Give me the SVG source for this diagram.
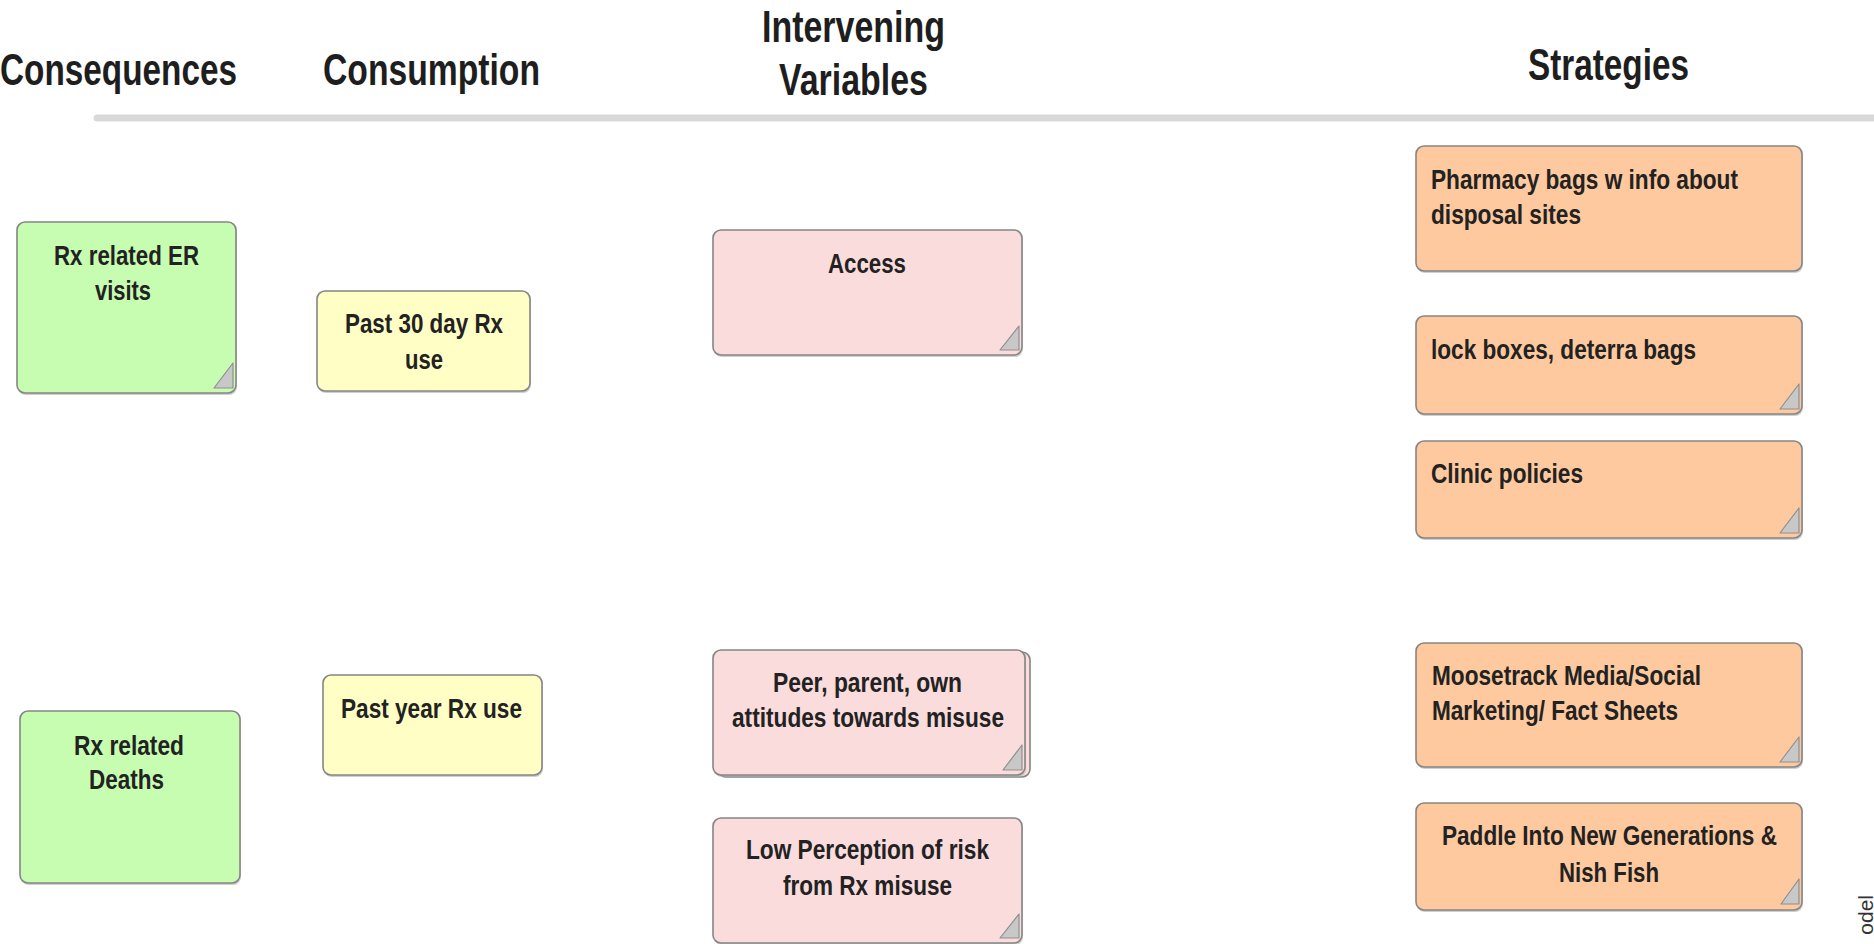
<svg xmlns="http://www.w3.org/2000/svg" width="1874" height="944" viewBox="0 0 1874 944">
<style>
  .hdr { font-family: "Liberation Sans", Arial, sans-serif; font-weight: bold; font-size: 44px; fill: #1e1e1e; }
  .t { font-family: "Liberation Sans", Arial, sans-serif; font-weight: bold; font-size: 28px; fill: #222222; }
  .box { stroke: #858585; stroke-width: 1.6; }
  .shadow { fill: #a8a8a8; opacity: 0.55; }
  .green { fill: #c6fdb1; }
  .yellow { fill: #fffec5; }
  .pink { fill: #fadcdd; }
  .orange { fill: #fec99e; }
  .fold { fill: #c8c8c8; stroke: #8f8f8f; stroke-width: 1.2; stroke-linejoin: round; }
  .c { text-anchor: middle; }
</style>
<rect x="0" y="0" width="1874" height="944" fill="#ffffff"/>

<g id="headers">
  <text class="hdr c" x="118.5" y="85" textLength="237" lengthAdjust="spacingAndGlyphs">Consequences</text>
  <text class="hdr c" x="431.5" y="85" textLength="217" lengthAdjust="spacingAndGlyphs">Consumption</text>
  <text class="hdr c" x="853.5" y="42" textLength="183" lengthAdjust="spacingAndGlyphs">Intervening</text>
  <text class="hdr c" x="853.5" y="95" textLength="149" lengthAdjust="spacingAndGlyphs">Variables</text>
  <text class="hdr c" x="1608.5" y="80" textLength="161" lengthAdjust="spacingAndGlyphs">Strategies</text>
  <line x1="97" y1="118" x2="1880" y2="118" stroke="#d9d9d9" stroke-width="7" stroke-linecap="round"/>
</g>

<g id="connectors"></g>

<g id="er-visits">
  <rect class="shadow" x="18" y="224" width="219" height="171" rx="8"/>
  <rect class="box green" x="17" y="222" width="219" height="171" rx="8"/>
  <polygon class="fold" points="214,388 233,363 233,388"/>
  <text class="t c" x="126.5" y="265" textLength="145" lengthAdjust="spacingAndGlyphs">Rx related ER</text>
  <text class="t c" x="123" y="300" textLength="56" lengthAdjust="spacingAndGlyphs">visits</text>
</g>

<g id="deaths">
  <rect class="shadow" x="21" y="713" width="220" height="172" rx="8"/>
  <rect class="box green" x="20" y="711" width="220" height="172" rx="8"/>
  <text class="t c" x="129" y="755" textLength="110" lengthAdjust="spacingAndGlyphs">Rx related</text>
  <text class="t c" x="126.5" y="789" textLength="75" lengthAdjust="spacingAndGlyphs">Deaths</text>
</g>

<g id="past30">
  <rect class="shadow" x="318" y="293" width="213" height="100" rx="8"/>
  <rect class="box yellow" x="317" y="291" width="213" height="100" rx="8"/>
  <text class="t c" x="424" y="333" textLength="158" lengthAdjust="spacingAndGlyphs">Past 30 day Rx</text>
  <text class="t c" x="424" y="369" textLength="38" lengthAdjust="spacingAndGlyphs">use</text>
</g>

<g id="pastyear">
  <rect class="shadow" x="324" y="677" width="219" height="100" rx="8"/>
  <rect class="box yellow" x="323" y="675" width="219" height="100" rx="8"/>
  <text class="t c" x="431.5" y="718" textLength="181" lengthAdjust="spacingAndGlyphs">Past year Rx use</text>
</g>

<g id="access">
  <rect class="shadow" x="714" y="232" width="309" height="125" rx="8"/>
  <rect class="box pink" x="713" y="230" width="309" height="125" rx="8"/>
  <polygon class="fold" points="1000,350 1019,326 1019,350"/>
  <text class="t c" x="867" y="273" textLength="78" lengthAdjust="spacingAndGlyphs">Access</text>
</g>

<g id="peer">
  <rect class="box pink" x="718" y="652" width="312" height="125" rx="8"/>
  <rect class="shadow" x="714" y="652" width="312" height="125" rx="8"/>
  <rect class="box pink" x="713" y="650" width="312" height="125" rx="8"/>
  <polygon class="fold" points="1003,770 1022,745 1022,770"/>
  <text class="t c" x="867.5" y="692" textLength="189" lengthAdjust="spacingAndGlyphs">Peer, parent, own</text>
  <text class="t c" x="868" y="727" textLength="272" lengthAdjust="spacingAndGlyphs">attitudes towards misuse</text>
</g>

<g id="low-perception">
  <rect class="shadow" x="714" y="820" width="309" height="125" rx="8"/>
  <rect class="box pink" x="713" y="818" width="309" height="125" rx="8"/>
  <polygon class="fold" points="1000,938 1019,914 1019,938"/>
  <text class="t c" x="867.5" y="859" textLength="243" lengthAdjust="spacingAndGlyphs">Low Perception of risk</text>
  <text class="t c" x="867.5" y="895" textLength="169" lengthAdjust="spacingAndGlyphs">from Rx misuse</text>
</g>

<g id="pharmacy">
  <rect class="shadow" x="1417" y="148" width="386" height="125" rx="8"/>
  <rect class="box orange" x="1416" y="146" width="386" height="125" rx="8"/>
  <text class="t" x="1431" y="189" textLength="307" lengthAdjust="spacingAndGlyphs">Pharmacy bags w info about</text>
  <text class="t" x="1431" y="224" textLength="150" lengthAdjust="spacingAndGlyphs">disposal sites</text>
</g>

<g id="lockboxes">
  <rect class="shadow" x="1417" y="318" width="386" height="98" rx="8"/>
  <rect class="box orange" x="1416" y="316" width="386" height="98" rx="8"/>
  <polygon class="fold" points="1780,409 1799,384 1799,409"/>
  <text class="t" x="1431" y="359" textLength="265" lengthAdjust="spacingAndGlyphs">lock boxes, deterra bags</text>
</g>

<g id="clinic">
  <rect class="shadow" x="1417" y="443" width="386" height="97" rx="8"/>
  <rect class="box orange" x="1416" y="441" width="386" height="97" rx="8"/>
  <polygon class="fold" points="1780,533 1799,508 1799,533"/>
  <text class="t" x="1431" y="483" textLength="152" lengthAdjust="spacingAndGlyphs">Clinic policies</text>
</g>

<g id="moosetrack">
  <rect class="shadow" x="1417" y="645" width="386" height="124" rx="8"/>
  <rect class="box orange" x="1416" y="643" width="386" height="124" rx="8"/>
  <polygon class="fold" points="1780,762 1799,737 1799,762"/>
  <text class="t" x="1432" y="685" textLength="269" lengthAdjust="spacingAndGlyphs">Moosetrack Media/Social</text>
  <text class="t" x="1432" y="720" textLength="246" lengthAdjust="spacingAndGlyphs">Marketing/ Fact Sheets</text>
</g>

<g id="paddle">
  <rect class="shadow" x="1417" y="805" width="386" height="107" rx="8"/>
  <rect class="box orange" x="1416" y="803" width="386" height="107" rx="8"/>
  <polygon class="fold" points="1781,904 1799,879 1799,904"/>
  <text class="t c" x="1609.5" y="845" textLength="335" lengthAdjust="spacingAndGlyphs">Paddle Into New Generations &amp;</text>
  <text class="t c" x="1609" y="882" textLength="100" lengthAdjust="spacingAndGlyphs">Nish Fish</text>
</g>

<text transform="translate(1873,895) rotate(-90)" text-anchor="end" font-family="Liberation Sans, Arial, sans-serif" font-size="21" fill="#333333">odel</text>
</svg>
